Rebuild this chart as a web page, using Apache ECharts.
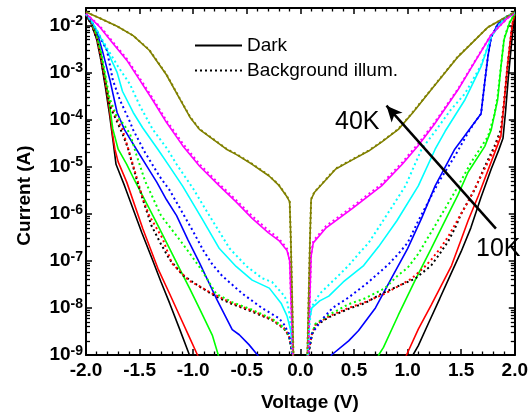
<!DOCTYPE html>
<html><head><meta charset="utf-8">
<script src="https://cdn.jsdelivr.net/npm/echarts@6/dist/echarts.min.js"></script>
<style>html,body{margin:0;padding:0;background:#fff}#c{width:531px;height:417px}</style>
</head><body><div id="c"></div>
<script>
const FONT = '"Liberation Sans", Arial, Helvetica, sans-serif';
const xTickLabels = ['-2.0','-1.5','-1.0','-0.5','0.0','0.5','1.0','1.5','2.0'];
const yTickExponents = [-9,-8,-7,-6,-5,-4,-3,-2];
const legendNames = ['Dark','Background illum.'];
const tempLabels = ['40K','10K'];

// [voltage (V), current (A)]
const darkBlack = [[-2.00,1.58e-2],[-1.95,1.07e-2],[-1.90,5.01e-3],[-1.86,1.78e-3],[-1.82,5.01e-4],[-1.78,1.26e-4],[-1.745,3.16e-5],[-1.72,1.12e-5],[-1.64,3.89e-6],[-1.48,3.98e-7],[-1.38,1.05e-7],[-1.30,3.55e-8],[-1.22,1.26e-8],[-1.13,3.72e-9],[-1.035,1.0e-9],[-0.98,5.01e-10],
  [0.98,3.98e-10],[1.05,1.0e-9],[1.10,1.58e-9],[1.20,5.01e-9],[1.30,1.58e-8],[1.40,5.01e-8],[1.50,1.58e-7],[1.59,5.01e-7],[1.685,2.24e-6],[1.78,8.91e-6],[1.85,2.24e-5],[1.89,3.98e-5],[1.915,1.58e-4],[1.94,7.94e-4],[1.965,3.16e-3],[1.985,8.91e-3],[2.00,1.58e-2]];
const darkRed = [[-2.00,1.66e-2],[-1.95,1.15e-2],[-1.90,5.62e-3],[-1.86,2.09e-3],[-1.82,6.31e-4],[-1.78,1.58e-4],[-1.75,4.47e-5],[-1.73,2.34e-5],[-1.70,1.26e-5],[-1.62,4.68e-6],[-1.47,4.79e-7],[-1.33,6.92e-8],[-1.22,2.0e-8],[-1.13,7.08e-9],[-1.04,2.51e-9],[-0.96,1.0e-9],[-0.90,4.47e-10],
  [0.93,4.47e-10],[0.99,1.0e-9],[1.10,3.55e-9],[1.22,1.15e-8],[1.41,7.94e-8],[1.50,2.82e-7],[1.564,7.08e-7],[1.66,2.40e-6],[1.78,1.26e-5],[1.87,4.37e-5],[1.90,2.24e-4],[1.93,1.26e-3],[1.96,5.01e-3],[1.98,1.12e-2],[2.00,1.70e-2]];
const darkGreen = [[-2.00,1.70e-2],[-1.95,1.17e-2],[-1.90,6.31e-3],[-1.86,2.51e-3],[-1.82,7.94e-4],[-1.78,2.0e-4],[-1.75,6.31e-5],[-1.70,2.34e-5],[-1.62,1.12e-5],[-1.545,5.01e-6],[-1.43,1.58e-6],[-1.34,6.31e-7],[-1.24,2.24e-7],[-1.128,6.92e-8],[-1.03,2.51e-8],[-0.94,9.55e-9],[-0.82,2.57e-9],[-0.766,1.0e-9],[-0.74,5.01e-10],
  [0.70,5.01e-10],[0.73,1.0e-9],[0.775,1.45e-9],[0.914,7.08e-9],[1.08,4.27e-8],[1.22,1.82e-7],[1.36,7.94e-7],[1.47,2.51e-6],[1.564,7.59e-6],[1.72,2.69e-5],[1.78,6.03e-5],[1.84,2.63e-4],[1.87,1.26e-3],[1.90,5.01e-3],[1.95,1.12e-2],[2.00,1.74e-2]];
const darkBlue = [[-2.00,1.70e-2],[-1.95,1.20e-2],[-1.90,7.59e-3],[-1.84,2.51e-3],[-1.777,6.92e-4],[-1.71,1.41e-4],[-1.64,6.03e-5],[-1.53,2.34e-5],[-1.43,1.0e-5],[-1.34,4.68e-6],[-1.25,2.0e-6],[-1.155,9.12e-7],[-1.05,2.82e-7],[-0.94,8.91e-8],[-0.786,1.62e-8],[-0.636,3.47e-9],[-0.57,2.69e-9],[-0.48,1.66e-9],[-0.40,1.0e-9],[-0.36,7.08e-10],
  [0.26,7.08e-10],[0.29,1.0e-9],[0.45,2.0e-9],[0.543,3.31e-9],[0.70,1.0e-8],[0.85,4.27e-8],[1.00,1.82e-7],[1.13,7.94e-7],[1.257,3.89e-6],[1.44,2.34e-5],[1.564,5.62e-5],[1.685,1.32e-4],[1.72,6.31e-4],[1.75,2.24e-3],[1.78,5.62e-3],[1.84,1.05e-2],[1.92,1.51e-2],[2.00,1.82e-2]];
const darkCyan = [[-2.00,1.74e-2],[-1.95,1.26e-2],[-1.90,7.94e-3],[-1.805,2.95e-3],[-1.71,1.0e-3],[-1.66,3.98e-4],[-1.56,1.41e-4],[-1.47,6.61e-5],[-1.33,2.34e-5],[-1.22,1.0e-5],[-1.10,3.89e-6],[-0.914,7.59e-7],[-0.756,1.82e-7],[-0.60,7.59e-8],[-0.45,3.89e-8],[-0.29,2.63e-8],[-0.18,1.26e-8],[-0.125,6.76e-9],[-0.09,3.31e-9],[-0.07,1.26e-9],[-0.06,5.01e-10],
  [0.06,5.01e-10],[0.07,1.58e-9],[0.08,5.01e-9],[0.107,1.0e-8],[0.18,1.41e-8],[0.265,1.78e-8],[0.40,3.55e-8],[0.59,7.94e-8],[0.73,2.0e-7],[0.90,7.08e-7],[1.10,3.89e-6],[1.257,2.34e-5],[1.35,5.62e-5],[1.535,2.63e-4],[1.685,1.32e-3],[1.78,5.62e-3],[1.90,1.41e-2],[2.00,1.86e-2]];
const darkMagenta = [[-2.00,1.78e-2],[-1.87,9.12e-3],[-1.75,4.17e-3],[-1.62,1.82e-3],[-1.50,6.92e-4],[-1.38,2.63e-4],[-1.25,8.71e-5],[-1.10,2.82e-5],[-0.94,1.02e-5],[-0.756,3.89e-6],[-0.60,1.78e-6],[-0.45,7.94e-7],[-0.30,3.98e-7],[-0.20,2.69e-7],[-0.125,1.66e-7],[-0.10,1.0e-7],[-0.085,1.0e-8],[-0.07,1.0e-9],[-0.06,3.16e-10],
  [0.06,3.16e-10],[0.075,1.0e-9],[0.085,1.0e-8],[0.10,1.26e-7],[0.12,2.40e-7],[0.24,5.01e-7],[0.48,1.26e-6],[0.757,3.89e-6],[0.95,1.12e-5],[1.10,2.82e-5],[1.25,7.94e-5],[1.47,4.27e-4],[1.62,1.58e-3],[1.78,6.31e-3],[1.93,1.41e-2],[2.00,1.82e-2]];
const darkOlive = [[-2.00,1.91e-2],[-1.87,1.41e-2],[-1.71,9.55e-3],[-1.56,6.03e-3],[-1.41,2.95e-3],[-1.25,8.91e-4],[-1.128,2.82e-4],[-1.03,1.12e-4],[-0.942,6.17e-5],[-0.69,2.34e-5],[-0.60,1.82e-5],[-0.45,1.12e-5],[-0.292,6.31e-6],[-0.20,3.98e-6],[-0.125,2.29e-6],[-0.10,1.78e-6],[-0.09,3.16e-7],[-0.075,1.0e-8],[-0.06,3.16e-10],
  [0.06,3.16e-10],[0.075,1.0e-8],[0.09,3.16e-7],[0.10,2.0e-6],[0.13,2.82e-6],[0.33,8.91e-6],[0.45,1.26e-5],[0.636,2.14e-5],[0.757,3.31e-5],[0.914,6.17e-5],[1.05,1.41e-4],[1.22,4.27e-4],[1.47,2.14e-3],[1.75,9.12e-3],[2.00,1.91e-2]];

const illumBlack = [[-2.00,1.58e-2],[-1.95,1.07e-2],[-1.90,5.25e-3],[-1.86,1.91e-3],[-1.82,6.03e-4],[-1.78,2.0e-4],[-1.72,1.0e-4],[-1.66,5.01e-5],[-1.61,2.51e-5],[-1.53,5.62e-6],[-1.47,2.0e-6],[-1.39,5.62e-7],[-1.30,2.24e-7],[-1.22,1.07e-7],[-1.10,5.01e-8],[-0.94,2.82e-8],[-0.786,1.74e-8],[-0.636,1.20e-8],[-0.45,8.32e-9],[-0.265,5.50e-9],[-0.153,3.63e-9],[-0.107,2.51e-9],[-0.08,1.20e-9],[-0.06,3.98e-10],
  [0.06,3.98e-10],[0.08,1.20e-9],[0.107,2.63e-9],[0.14,4.17e-9],[0.265,6.31e-9],[0.45,9.55e-9],[0.60,1.26e-8],[0.757,2.0e-8],[0.90,2.82e-8],[1.07,4.17e-8],[1.22,7.94e-8],[1.30,1.41e-7],[1.38,2.63e-7],[1.44,4.79e-7],[1.50,1.0e-6],[1.63,3.39e-6],[1.72,1.0e-5],[1.81,2.69e-5],[1.87,6.03e-5],[1.90,2.24e-4],[1.93,1.12e-3],[1.96,4.47e-3],[1.98,1.05e-2],[2.00,1.62e-2]];
const illumRed = [[-2.00,1.66e-2],[-1.95,1.15e-2],[-1.90,5.75e-3],[-1.86,2.19e-3],[-1.82,7.08e-4],[-1.78,2.40e-4],[-1.72,1.12e-4],[-1.66,6.17e-5],[-1.57,1.26e-5],[-1.47,2.09e-6],[-1.41,9.12e-7],[-1.285,2.95e-7],[-1.20,8.91e-8],[-1.035,3.72e-8],[-0.94,2.88e-8],[-0.82,2.0e-8],[-0.636,1.26e-8],[-0.45,8.71e-9],[-0.265,5.62e-9],[-0.153,3.72e-9],[-0.107,2.57e-9],[-0.08,1.26e-9],[-0.06,3.98e-10],
  [0.06,3.98e-10],[0.08,1.26e-9],[0.107,2.75e-9],[0.14,4.37e-9],[0.265,6.61e-9],[0.45,1.0e-8],[0.60,1.32e-8],[0.79,2.0e-8],[1.035,4.17e-8],[1.15,7.08e-8],[1.22,1.05e-7],[1.31,1.91e-7],[1.38,3.31e-7],[1.47,7.59e-7],[1.564,1.78e-6],[1.685,6.31e-6],[1.81,2.34e-5],[1.87,5.25e-5],[1.90,2.40e-4],[1.93,1.32e-3],[1.96,5.25e-3],[1.98,1.15e-2],[2.00,1.70e-2]];
const illumGreen = [[-2.00,1.70e-2],[-1.95,1.17e-2],[-1.90,6.31e-3],[-1.86,2.63e-3],[-1.82,8.91e-4],[-1.78,2.82e-4],[-1.72,1.26e-4],[-1.65,7.94e-5],[-1.59,5.01e-5],[-1.53,1.78e-5],[-1.45,5.01e-6],[-1.30,9.12e-7],[-1.128,2.82e-7],[-1.03,1.41e-7],[-0.914,6.03e-8],[-0.786,2.0e-8],[-0.636,1.32e-8],[-0.45,9.12e-9],[-0.265,5.89e-9],[-0.153,3.80e-9],[-0.107,2.63e-9],[-0.08,1.26e-9],[-0.06,3.98e-10],
  [0.06,3.98e-10],[0.08,1.26e-9],[0.107,2.82e-9],[0.14,4.57e-9],[0.265,7.08e-9],[0.45,1.20e-8],[0.60,1.58e-8],[0.79,2.63e-8],[0.914,5.01e-8],[1.00,7.08e-8],[1.10,1.41e-7],[1.257,5.62e-7],[1.44,2.88e-6],[1.59,1.20e-5],[1.75,4.37e-5],[1.81,1.26e-4],[1.84,3.16e-4],[1.87,1.32e-3],[1.90,5.25e-3],[1.95,1.15e-2],[2.00,1.74e-2]];
const illumBlue = [[-2.00,1.70e-2],[-1.95,1.20e-2],[-1.90,7.59e-3],[-1.805,2.95e-3],[-1.75,6.92e-4],[-1.685,2.63e-4],[-1.59,8.91e-5],[-1.56,6.03e-5],[-1.45,2.0e-5],[-1.31,6.03e-6],[-1.22,3.16e-6],[-1.10,1.05e-6],[-1.00,4.17e-7],[-0.90,1.58e-7],[-0.82,8.32e-8],[-0.73,4.79e-8],[-0.54,2.0e-8],[-0.36,1.0e-8],[-0.20,6.03e-9],[-0.153,4.47e-9],[-0.107,2.82e-9],[-0.08,1.26e-9],[-0.06,3.98e-10],
  [0.06,3.98e-10],[0.08,1.26e-9],[0.107,2.82e-9],[0.20,5.62e-9],[0.30,1.0e-8],[0.45,1.66e-8],[0.636,3.55e-8],[0.82,8.32e-8],[0.914,1.41e-7],[1.00,2.40e-7],[1.10,7.08e-7],[1.285,4.47e-6],[1.44,1.66e-5],[1.564,5.25e-5],[1.63,8.91e-5],[1.685,1.32e-4],[1.72,6.31e-4],[1.75,2.24e-3],[1.78,5.62e-3],[1.84,1.05e-2],[1.92,1.51e-2],[2.00,1.82e-2]];
const illumCyan = [[-2.00,1.74e-2],[-1.95,1.26e-2],[-1.90,7.94e-3],[-1.80,3.16e-3],[-1.70,1.32e-3],[-1.59,5.62e-4],[-1.50,2.0e-4],[-1.38,6.31e-5],[-1.24,2.34e-5],[-1.155,1.12e-5],[-1.00,3.39e-6],[-0.82,7.08e-7],[-0.66,1.82e-7],[-0.50,7.59e-8],[-0.357,4.27e-8],[-0.265,3.55e-8],[-0.16,1.91e-8],[-0.125,1.41e-8],[-0.10,7.08e-9],[-0.08,2.0e-9],[-0.065,3.98e-10],
  [0.06,3.98e-10],[0.08,3.16e-9],[0.10,1.0e-8],[0.18,2.0e-8],[0.33,4.27e-8],[0.45,7.94e-8],[0.543,1.41e-7],[0.636,2.40e-7],[0.757,6.31e-7],[0.98,3.89e-6],[1.13,2.34e-5],[1.257,5.62e-5],[1.40,1.58e-4],[1.535,3.55e-4],[1.685,1.41e-3],[1.78,5.89e-3],[1.90,1.45e-2],[2.00,1.86e-2]];
const illumMagenta = [[-2.00,1.78e-2],[-1.87,9.55e-3],[-1.75,4.47e-3],[-1.62,1.95e-3],[-1.50,7.59e-4],[-1.38,2.88e-4],[-1.25,9.55e-5],[-1.10,3.16e-5],[-0.94,1.12e-5],[-0.756,4.27e-6],[-0.60,1.95e-6],[-0.45,8.91e-7],[-0.30,4.47e-7],[-0.20,2.95e-7],[-0.125,1.82e-7],[-0.10,1.0e-7],[-0.085,1.0e-8],[-0.07,1.0e-9],[-0.06,3.16e-10],
  [0.06,3.16e-10],[0.075,1.0e-9],[0.085,1.0e-8],[0.10,1.38e-7],[0.12,2.63e-7],[0.24,5.50e-7],[0.48,1.38e-6],[0.757,4.27e-6],[0.95,1.23e-5],[1.10,3.09e-5],[1.25,8.51e-5],[1.47,4.47e-4],[1.62,1.62e-3],[1.78,6.31e-3],[1.93,1.41e-2],[2.00,1.82e-2]];
const illumOlive = [[-2.00,1.91e-2],[-1.87,1.41e-2],[-1.71,9.55e-3],[-1.56,6.03e-3],[-1.41,3.02e-3],[-1.25,9.12e-4],[-1.128,2.88e-4],[-1.03,1.15e-4],[-0.942,6.31e-5],[-0.69,2.40e-5],[-0.60,1.86e-5],[-0.45,1.15e-5],[-0.292,6.46e-6],[-0.20,4.07e-6],[-0.125,2.34e-6],[-0.10,1.82e-6],[-0.09,3.16e-7],[-0.075,1.0e-8],[-0.06,3.16e-10],
  [0.06,3.16e-10],[0.075,1.0e-8],[0.09,3.16e-7],[0.10,2.04e-6],[0.13,2.88e-6],[0.33,9.12e-6],[0.45,1.29e-5],[0.636,2.19e-5],[0.757,3.39e-5],[0.914,6.31e-5],[1.05,1.45e-4],[1.22,4.37e-4],[1.47,2.19e-3],[1.75,9.12e-3],[2.00,1.91e-2]];

const curves = [
  ['Dark', darkBlack, '#000000', false],
  ['Dark red', darkRed, '#ff0000', false],
  ['Dark green', darkGreen, '#00ff00', false],
  ['Dark blue', darkBlue, '#0000ff', false],
  ['Dark cyan', darkCyan, '#00ffff', false],
  ['Dark magenta', darkMagenta, '#ff00ff', false],
  ['Dark olive', darkOlive, '#808000', false],
  ['Background illum.', illumBlack, '#000000', true],
  ['Illum red', illumRed, '#ff0000', true],
  ['Illum green', illumGreen, '#00ff00', true],
  ['Illum blue', illumBlue, '#0000ff', true],
  ['Illum cyan', illumCyan, '#00ffff', true],
  ['Illum magenta', illumMagenta, '#ff00ff', true],
  ['Illum olive', illumOlive, '#808000', true]
];

const yMin = 1e-9, yMax = 0.0233;
const yMinorTicks = [];
yTickExponents.forEach(function (e) {
  for (let m = 2; m <= 9; m++) { const v = m * Math.pow(10, e); if (v < yMax) yMinorTicks.push(v); }
});

function yFmt(v) {
  const e = Math.log10(v), r = Math.round(e);
  if (Math.abs(e - r) > 1e-6 || yTickExponents.indexOf(r) < 0) return '';
  return '{a|10}{b|' + r + '}';
}
function xFmt(v) {
  const i = Math.round((v + 2) / 0.5);
  return xTickLabels[i] !== undefined ? xTickLabels[i] : '';
}

const axisLine = { show: true, onZero: false, lineStyle: { color: '#000', width: 2 } };
const series = curves.map(function (c) {
  return {
    name: c[0], type: 'line', data: c[1], symbol: 'none', showSymbol: false,
    xAxisIndex: 0, yAxisIndex: 0, clip: true, silent: true, z: c[3] ? 3 : 2,
    lineStyle: { color: c[2], width: c[3] ? 2 : 1.6, type: c[3] ? [2, 3] : 'solid' },
    itemStyle: { color: c[2] }
  };
});
series[0].markLine = {
  silent: true, symbol: ['none', 'arrow'], symbolSize: [11, 16], animation: false,
  label: { show: false },
  lineStyle: { color: '#000', width: 2.5, type: 'solid' },
  data: [[{ coord: [1.824, 4.83e-7] }, { coord: [0.803, 1.97e-4] }]]
};

const chart = echarts.init(document.getElementById('c'));
chart.setOption({
  animation: false,
  backgroundColor: '#fff',
  grid: { left: 86, right: 14, top: 8, bottom: 59, containLabel: false },
  legend: {
    data: legendNames, left: 194, top: 36, padding: 0, orient: 'vertical', itemWidth: 47, itemHeight: 14, itemGap: 6,
    selectedMode: false, itemStyle: { opacity: 0 },
    textStyle: { fontFamily: FONT, fontSize: 19, color: '#000' }
  },
  xAxis: [
    { type: 'value', position: 'bottom', min: -2, max: 2, interval: 0.5,
      axisLine: axisLine, splitLine: { show: false },
      axisTick: { inside: true, length: 6, lineStyle: { color: '#000', width: 1.5 } },
      minorTick: { show: true, splitNumber: 5, length: 3.5, lineStyle: { color: '#000', width: 1.3 } },
      axisLabel: { formatter: xFmt, margin: 6, fontFamily: FONT, fontSize: 19, fontWeight: 'bold', color: '#000' },
      name: 'Voltage (V)', nameLocation: 'middle', nameGap: 38,
      nameTextStyle: { fontFamily: FONT, fontSize: 19, fontWeight: 'bold', color: '#000', padding: [0, 0, 0, 19] } },
    { type: 'value', position: 'top', min: -2, max: 2, interval: 0.5,
      axisLine: axisLine, splitLine: { show: false },
      axisTick: { inside: true, length: 6, lineStyle: { color: '#000', width: 1.5 } },
      minorTick: { show: true, splitNumber: 5, length: 3.5, lineStyle: { color: '#000', width: 1.3 } },
      axisLabel: { show: false } }
  ],
  yAxis: [
    { type: 'log', logBase: 10, position: 'left', min: yMin, max: yMax,
      axisLine: axisLine, splitLine: { show: false },
      axisTick: { inside: true, length: 6, lineStyle: { color: '#000', width: 1.5 } },
      axisLabel: { formatter: yFmt, margin: 3, showMaxLabel: false,
        rich: { a: { fontFamily: FONT, fontSize: 19, fontWeight: 'bold', color: '#000' },
                b: { fontFamily: FONT, fontSize: 14, fontWeight: 'bold', color: '#000', padding: [0, 0, 8, 0] } } },
      name: 'Current (A)', nameLocation: 'middle', nameGap: 52,
      nameTextStyle: { fontFamily: FONT, fontSize: 19, fontWeight: 'bold', color: '#000', padding: [0, 28, 0, 0] } },
    { type: 'log', logBase: 10, position: 'right', min: yMin, max: yMax,
      axisLine: axisLine, splitLine: { show: false },
      axisTick: { inside: true, length: 6, lineStyle: { color: '#000', width: 1.5 } },
      axisLabel: { show: false } },
    { type: 'log', logBase: 10, position: 'left', min: yMin, max: yMax,
      axisLine: { show: false, onZero: false }, splitLine: { show: false },
      axisTick: { inside: true, length: 4, customValues: yMinorTicks, lineStyle: { color: '#000', width: 1.3 } },
      axisLabel: { show: false } },
    { type: 'log', logBase: 10, position: 'right', min: yMin, max: yMax,
      axisLine: { show: false, onZero: false }, splitLine: { show: false },
      axisTick: { inside: true, length: 4, customValues: yMinorTicks, lineStyle: { color: '#000', width: 1.3 } },
      axisLabel: { show: false } }
  ],
  graphic: [
    { type: 'text', left: 335, top: 110, silent: true, style: { text: tempLabels[0], font: '25px ' + FONT, fill: '#000' } },
    { type: 'text', left: 476, top: 237, silent: true, style: { text: tempLabels[1], font: '25px ' + FONT, fill: '#000' } }
  ],
  series: series
});
</script>
</body></html>
